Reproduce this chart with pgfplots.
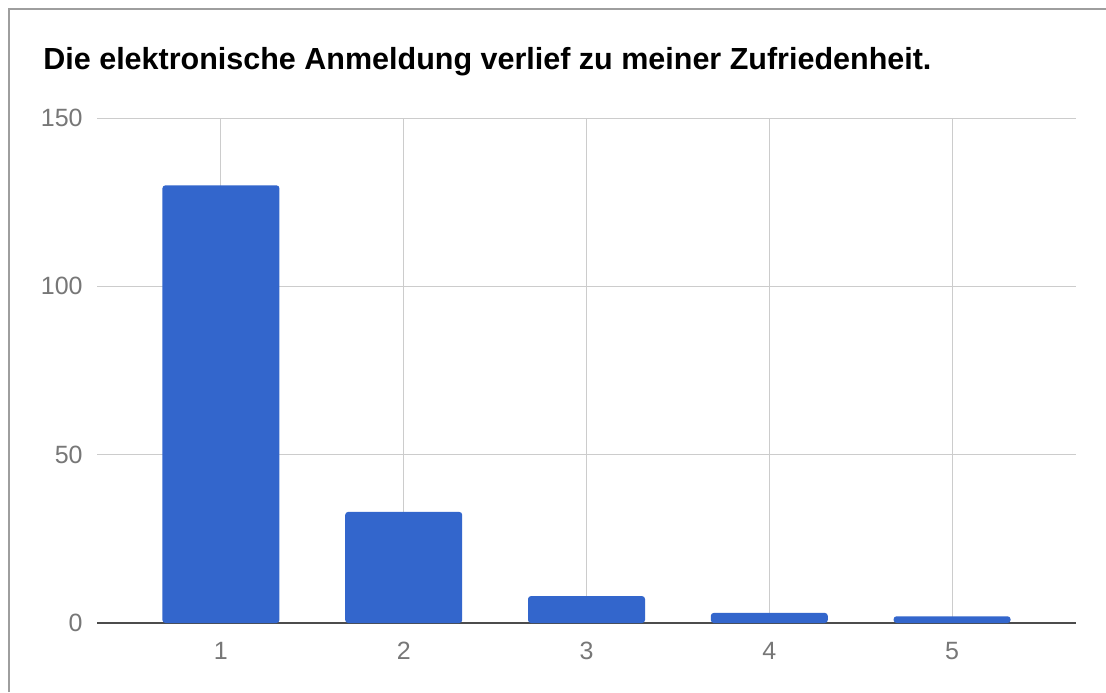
\documentclass[border=0pt]{standalone}
\usepackage{fontspec}
\setmainfont{Liberation Sans}
\usepackage{pgfplots}
\pgfplotsset{compat=1.18}

\definecolor{barblue}{HTML}{3366CC}
\definecolor{gridgray}{HTML}{CCCCCC}
\definecolor{ticktext}{HTML}{777777}
\definecolor{framegray}{HTML}{9E9E9E}

\begin{document}
\begin{tikzpicture}[x=1pt,y=1pt]
% page: 1106x692 px at 0.5pt per px
\useasboundingbox (0,0) rectangle (553,346);
\fill[white] (0,0) rectangle (553,346);
\draw[framegray, line width=1pt] (4.7,0) -- (4.7,341.5) -- (553,341.5);

\node[anchor=base west, inner sep=0pt, font=\fontsize{15.25}{18}\selectfont\bfseries]
  at (21.5,311) {Die elektronische Anmeldung verlief zu meiner Zufriedenheit.};

\begin{axis}[
  at={(48.5pt,34.5pt)}, anchor=origin,
  scale only axis,
  width=489.5pt, height=252.5pt,
  xmin=0.322, xmax=5.678,
  ymin=0, ymax=150,
  xtick={1,2,3,4,5},
  ytick={0,50,100,150},
  major tick length=0pt,
  grid=major,
  grid style={gridgray, line width=0.5pt},
  axis x line=bottom,
  axis y line=left,
  x axis line style={draw=black!70, line width=1pt, -},
  y axis line style={draw=none},
  tick label style={font=\fontsize{12.5}{15}\selectfont, text=ticktext},
  /pgf/number format/assume math mode=true,
  yticklabel style={anchor=east, inner sep=0pt, xshift=-7pt},
  xticklabel style={anchor=north, inner sep=0pt, yshift=-9.5pt},
  ybar, bar width=58.5pt,
]
\addplot[fill=barblue, draw=none, rounded corners=1.5pt] coordinates {
  (1,130) (2,33) (3,8) (4,3) (5,2)
};
\end{axis}
\end{tikzpicture}
\end{document}
